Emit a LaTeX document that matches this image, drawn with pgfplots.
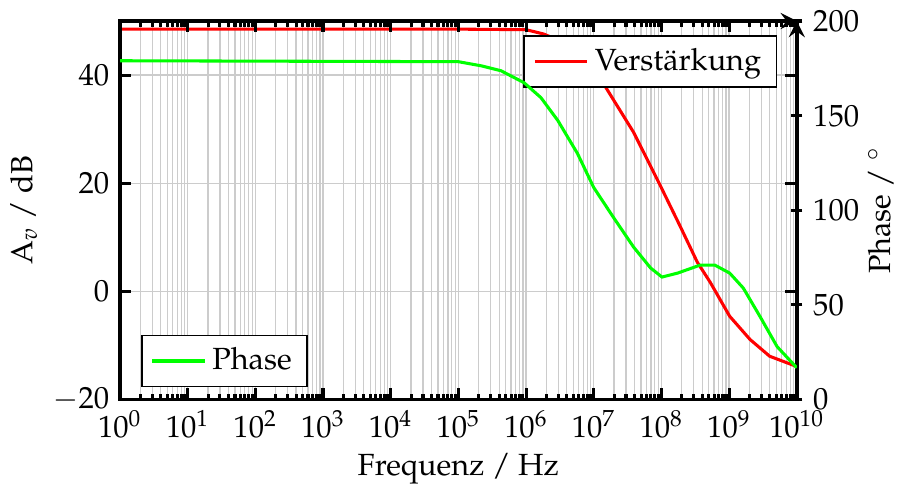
\documentclass[border=0pt]{standalone}
\usepackage[T1]{fontenc}
\usepackage{mathpazo}
\usepackage{pgfplots}
\pgfplotsset{compat=1.18}
\begin{document}
\begin{tikzpicture}
\begin{axis}[
  width=221pt, height=123.6pt, scale only axis,
  xmode=log, xmin=1, xmax=1e10,
  xtick={1,1e1,1e2,1e3,1e4,1e5,1e6,1e7,1e8,1e9,1e10},
  axis line style={line width=1.3pt},
  tick style={black, line width=1pt},
  major tick length=3.7pt, minor tick length=1.8pt,
  ymin=-20, ymax=50, ytick={-20,0,20,40},
  xmajorgrids, xminorgrids, ymajorgrids,
  grid style={gray!40, line width=0.4pt},
  xlabel={Frequenz / Hz}, ylabel={A$_v$ / dB},
  xlabel shift=-2pt, ylabel shift=-1.7pt,
  legend style={at={(0.971,0.963)}, anchor=north east, draw=black, line width=0.5pt},
  legend cell align=left,
]
\addplot[red, line width=1pt] coordinates {
(1,48.5) (1e5,48.5) (1e6,48.4) (1.82e6,47.6) (3.2e6,46.3) (6.3e6,43.3) (1.26e7,39.3) (3.89e7,29.4) (9.77e7,19.4) (1.9e8,12.0) (3.39e8,5.4) (5.25e8,1.7) (1.02e9,-4.6) (2.04e9,-8.9) (3.98e9,-12.0) (1e10,-13.9)
};
\addlegendentry{Verst\"arkung}
\end{axis}
\begin{axis}[
  width=221pt, height=123.6pt, scale only axis,
  xmode=log, xmin=1, xmax=1e10,
  xtick={1,1e1,1e2,1e3,1e4,1e5,1e6,1e7,1e8,1e9,1e10},
  axis line style={line width=1.3pt},
  x axis line style={-stealth}, y axis line style={-stealth},
  tick style={black, line width=1pt},
  major tick length=3.7pt, minor tick length=1.8pt,
  axis y line*=right, axis x line*=top,
  xticklabels={},
  ymin=0, ymax=200, ytick={0,50,100,150,200},
  ytick align=center,
  ylabel={Phase / $^\circ$}, ylabel shift=-4pt,
  legend style={at={(0.031,0.032)}, anchor=south west, draw=black, line width=0.5pt},
]
\addplot[green, line width=1pt] coordinates {
(1,179) (1e5,178.5) (2.19e5,176.3) (4.27e5,173.7) (9.33e5,167.4) (1.66e6,159.5) (2.95e6,147.4) (5.75e6,130) (1e7,112) (1.95e7,96.3) (3.89e7,80.5) (6.92e7,69.5) (1.02e8,64.7) (1.74e8,66.8) (3.72e8,71) (6.17e8,71) (1.02e9,66.8) (1.62e9,58.9) (2.88e9,43.7) (5.13e9,27.9) (1e10,16.8)
};
\addlegendentry{Phase}
\end{axis}
\end{tikzpicture}
\end{document}
